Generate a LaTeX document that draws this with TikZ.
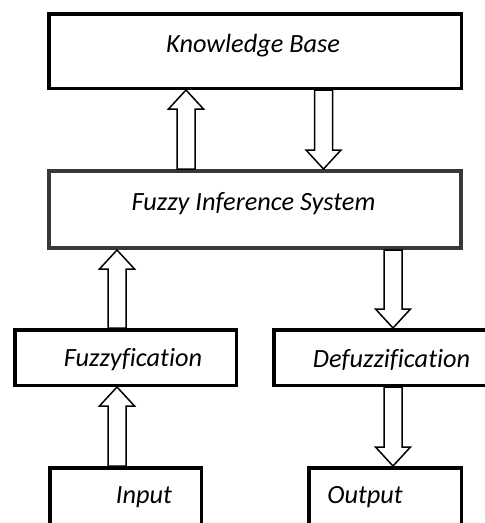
\documentclass[tikz,border=0pt]{standalone}
\usepackage{fontspec}
\setmainfont{Carlito}[Ligatures=NoCommon]
\usetikzlibrary{calc}
\tikzset{
  box/.style={draw=black, line width=3.5pt, fill=none, inner sep=0pt},
  graybox/.style={draw=black!78, line width=4pt, fill=none, inner sep=0pt},
  txt/.style={font=\fontsize{26.3}{30}\selectfont\itshape, inner sep=0pt},
  barrow/.style={draw=black, line width=1.5pt, fill=white, line join=miter},
}
\newcommand{\BlockArrow}[2]{%
  \draw[barrow] let \p1=(#1), \p2=(#2), \n1={sign(\y2-\y1)} in
    (\x1-9pt,\y1) -- (\x1-9pt,\y2-\n1*19pt) -- (\x1-17.5pt,\y2-\n1*19pt) --
    (\x1,\y2) -- (\x1+17.5pt,\y2-\n1*19pt) -- (\x1+9pt,\y2-\n1*19pt) --
    (\x1+9pt,\y1) -- cycle;}
\begin{document}
\begin{tikzpicture}[x=1pt,y=-1pt]
  \useasboundingbox (0,0) rectangle (485,523);
  \clip (0,0) rectangle (485,523);
  \fill[white] (0,0) rectangle (485,523);
  % boxes
  \node[box, minimum width=412.5pt, minimum height=74.5pt] (kb) at (255,51) {};
  \node[graybox, minimum width=412pt, minimum height=77pt] (fis) at (255,209.5) {};
  \node[box, minimum width=221.5pt, minimum height=55.5pt] (fuzz) at (125.5,357.5) {};
  \node[box, minimum width=254.5pt, minimum height=55.5pt] (defuzz) at (401,357.5) {};
  \node[box, minimum width=151.5pt, minimum height=90.5pt] (input) at (125.5,513) {};
  \node[box, minimum width=152.5pt, minimum height=90.5pt] (output) at (385,513) {};
  % texts
  \node[txt] (kbt) at (253,46) {Knowledge Base};
  \node[txt] (fist) at (253.5,204) {Fuzzy Inference System};
  \node[txt] (fuzzt) at (133,360) {Fuzzyfication};
  \node[txt] (defuzzt) at (391.5,360) {Defuzzification};
  \node[txt] (inputt) at (144,497) {Input};
  \node[txt] (outputt) at (365,497) {Output};
  % block arrows
  \BlockArrow{[xshift=-69pt]fis.north}{kb.south}
  \BlockArrow{[xshift=68.5pt]kb.south}{fis.north}
  \BlockArrow{[xshift=-8.5pt]fuzz.north}{fis.south}
  \BlockArrow{[xshift=138pt]fis.south}{defuzz.north}
  \BlockArrow{[xshift=-8.5pt]input.north}{fuzz.south}
  \BlockArrow{[xshift=-8pt]defuzz.south}{output.north}
\end{tikzpicture}
\end{document}
